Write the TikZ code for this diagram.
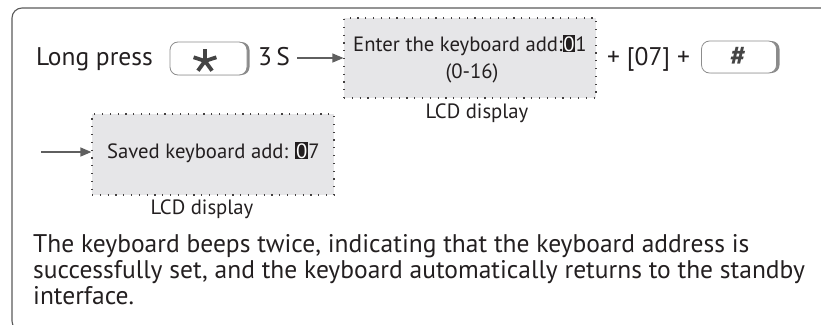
\documentclass[tikz,border=0pt]{standalone}
\usepackage{fontspec}
\setmainfont{PT Sans}
\usetikzlibrary{arrows.meta}
\definecolor{framec}{HTML}{5A5A5A}
\definecolor{arrc}{HTML}{5F5F5F}
\definecolor{lcdfill}{HTML}{E6E6E8}
\definecolor{txt}{HTML}{231F20}
\definecolor{keyedge}{HTML}{8C8C8C}
\definecolor{keyshade}{HTML}{8A8A8A}
\definecolor{glyph}{HTML}{444444}
\newcommand{\hlbox}[1]{{\setlength{\fboxsep}{0.8pt}\colorbox{txt}{\textcolor{white}{#1}}}}
\tikzset{
  big/.style={font=\fontsize{25.5}{28}\selectfont, text=txt, inner sep=0pt},
  mid/.style={font=\fontsize{20.7}{24}\selectfont, text=txt, inner sep=0pt},
  lcd/.style={fill=lcdfill, draw=txt!85, line width=1.2pt, dash pattern=on 1.2pt off 6.6pt, inner sep=0pt},
  keybox/.style={fill=white, draw=keyedge, line width=0.8pt, rounded corners=8pt, inner sep=0pt},
  keyshadow/.style={fill=keyshade, draw=none, rounded corners=8pt, inner sep=0pt},
  arr/.style={draw=arrc, line width=1.3pt, -{Triangle[length=11pt,width=9pt]}},
}
\begin{document}
\begin{tikzpicture}[x=1pt,y=-1pt]
\useasboundingbox (0,0) rectangle (821,324);
\begin{scope}
\clip (0,0) rectangle (821,324);
\draw[framec, line width=1.1pt, rounded corners=10pt] (12,8) rectangle (850,331);
\end{scope}
% row 1
\node[big, anchor=base west] (lp) at (36,65) {Long press};
\node[keyshadow, minimum width=78pt, minimum height=33pt] (starsh) at (210.5,58.5) {};
\node[keybox, minimum width=77pt, minimum height=33pt] (star) at (208.5,58.5) {};
\foreach \a in {90,162,234,306,18} {
  \draw[glyph, line width=3.8pt] (205,61) -- ++(\a:12pt);
}
\node[big, anchor=base west] (ts) at (258,65) {3\,S};
\node[lcd, minimum width=252pt, minimum height=80pt] (lcd1) at (470,58) {};
\coordinate (a1s) at (297,58);
\draw[arr] (a1s) -- (a1s -| lcd1.west);
\node[mid, anchor=base] (l1a) at (470,51) {Enter the keyboard add:\hlbox{0}1};
\node[mid, anchor=base] (l1b) at (472,78) {(0-16)};
\node[mid, anchor=base] (lab1) at (477,118) {LCD display};
\node[big, anchor=base west] (plus) at (607,65) {+ [07] +};
\node[keyshadow, minimum width=77pt, minimum height=32pt] (hashsh) at (741,57) {};
\node[keybox, minimum width=75pt, minimum height=32pt] (hash) at (739,57) {};
\node[font=\fontsize{28}{30}\selectfont\bfseries, text=glyph, inner sep=0pt] (hg) at (738,56) {\#};
% row 2
\node[lcd, minimum width=242pt, minimum height=81pt] (lcd2) at (213,154.5) {};
\coordinate (a2s) at (41,152);
\draw[arr] (a2s) -- (a2s -| lcd2.west);
\node[mid, anchor=base west] (l2a) at (107,158) {Saved keyboard add: \hlbox{0}7};
\node[mid, anchor=base] (lab2) at (202,214) {LCD display};
% paragraph
\node[big, anchor=base west] (para1) at (33,252) {The keyboard beeps twice, indicating that the keyboard address is};
\node[big, anchor=base west] (para2) at (33,278) {successfully set, and the keyboard automatically returns to the standby};
\node[big, anchor=base west] (para3) at (33,304) {interface.};
\end{tikzpicture}
\end{document}
